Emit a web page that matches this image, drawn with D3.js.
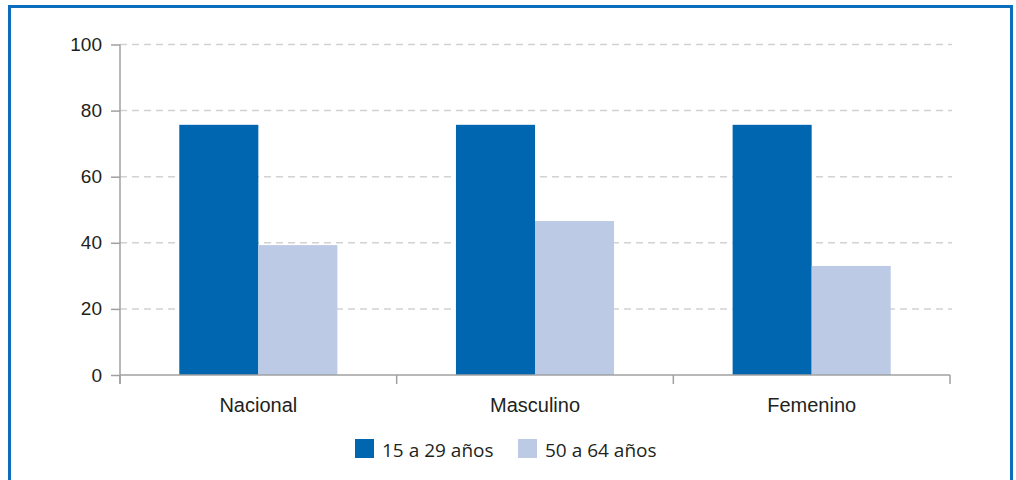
<!DOCTYPE html>
<html>
<head>
<meta charset="utf-8">
<script src="https://cdn.jsdelivr.net/npm/d3@7"></script>
<style>
  body { margin: 0; background: #fff; }
  svg { display: block; font-family: "Open Sans", sans-serif; }
</style>
</head>
<body>
<svg id="chart" width="1016" height="480"></svg>
<script>
// chart values
const categories = ['Nacional', 'Masculino', 'Femenino'];
const seriesNames = ['15 a 29 años', '50 a 64 años'];
const joven = [75.7, 75.7, 75.7];
const mayor = [39.3, 46.6, 33.0];
const yTicks = [0, 20, 40, 60, 80, 100];

const colors = ['#0066b0', '#bccae6'];

/**
 * plot area margins
 */
const margin = {left: 120, right: 66, top: 45, bottom: 105};
const svg = d3.select('#chart');
const width = +svg.attr('width');
const height = +svg.attr('height');

// outer frame, bottom edge sits below the picture
svg.append('rect')
    .attr('x', 9.5).attr('y', 6.5)
    .attr('width', 1002).attr('height', 520)
    .attr('fill', 'none')
    .attr('stroke', '#0b6dbb')
    .attr('stroke-width', 3);

const xScale = d3.scaleBand()
    .domain(categories)
    .range([margin.left, width - margin.right]);
const inner = d3.scaleBand()
    .domain(seriesNames)
    .range([0, xScale.bandwidth()])
    .paddingOuter(0.75)
    .paddingInner(0);
const yScale = d3.scaleLinear()
    .domain([0, 100])
    .range([375, 44.5]);

// grid lines
svg.append('g')
    .selectAll('line')
    .data(yTicks.filter(d => d > 0))
    .enter()
    .append('line')
    .attr('x1', margin.left).attr('x2', width - margin.right + 2)
    .attr('y1', d => yScale(d)).attr('y2', d => yScale(d))
    .attr('stroke', '#d2d2d2')
    .attr('stroke-width', 1.5)
    .attr('stroke-dasharray', '7,5');

// bars
const rows = categories.map((c, i) => ({cat: c, vals: [joven[i], mayor[i]]}));
svg.append('g')
    .selectAll('g')
    .data(rows)
    .enter()
    .append('g')
    .attr('transform', d => 'translate(' + xScale(d.cat) + ',0)')
    .selectAll('rect')
    .data(d => d.vals.map((v, j) => ({name: seriesNames[j], v: v, j: j})))
    .enter()
    .append('rect')
    .attr('x', d => inner(d.name))
    .attr('width', inner.bandwidth())
    .attr('y', d => yScale(d.v))
    .attr('height', d => yScale(0) - yScale(d.v))
    .attr('fill', d => colors[d.j]);

// y axis
const yAxis = d3.axisLeft(yScale).tickValues(yTicks).tickSize(9).tickPadding(9);
const yg = svg.append('g')
    .attr('transform', 'translate(' + margin.left + ',0)')
    .call(yAxis);
yg.select('.domain').attr('stroke', '#a0a0a0').attr('stroke-width', 1.5)
    .attr('d', 'M0,' + yScale(100) + 'V' + (yScale(0) + 9));
yg.selectAll('.tick line').attr('stroke', '#a0a0a0').attr('stroke-width', 1.5);
yg.selectAll('.tick text')
    .attr('fill', '#231f20')
    .style('font-size', '19px');

// x axis, ticks at the band edges
const xAxis = d3.axisBottom(xScale).tickSize(0).tickPadding(23);
const xg = svg.append('g')
    .attr('transform', 'translate(0,' + yScale(0) + ')')
    .call(xAxis);
xg.select('.domain').attr('stroke', '#a0a0a0').attr('stroke-width', 1.5)
    .attr('d', 'M' + margin.left + ',0H' + (width - margin.right));
xg.selectAll('.tick line').remove();
xg.selectAll('.tick text')
    .attr('fill', '#231f20')
    .style('font-size', '20px');
const edges = categories.map(c => xScale(c)).concat([xScale.range()[1]]);
xg.selectAll('.edge')
    .data(edges)
    .enter()
    .append('line')
    .attr('x1', d => d).attr('x2', d => d)
    .attr('y1', 0).attr('y2', 9)
    .attr('stroke', '#a0a0a0')
    .attr('stroke-width', 1.5);

// legend
const legendX = [355, 518];
const legend = svg.append('g')
    .selectAll('g')
    .data(seriesNames)
    .enter()
    .append('g')
    .attr('transform', (d, i) => 'translate(' + legendX[i] + ',439)');
legend.append('rect')
    .attr('width', 19).attr('height', 19)
    .attr('fill', (d, i) => colors[i]);
legend.append('text')
    .attr('x', 27).attr('y', 18)
    .attr('fill', '#231f20')
    .style('font-size', '19px')
    .text(d => d);
</script>
</body>
</html>
